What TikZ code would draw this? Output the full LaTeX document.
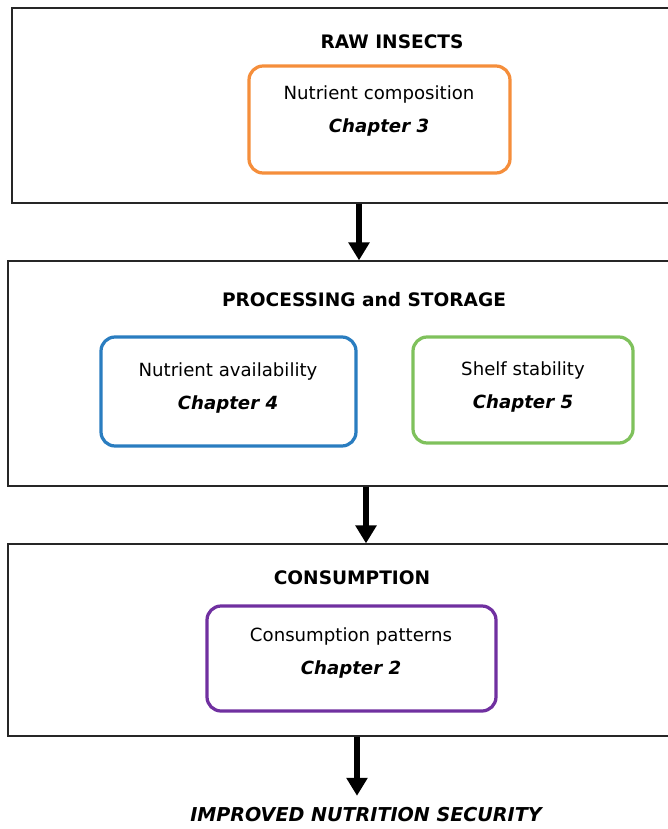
\documentclass[tikz,border=0pt]{standalone}
\usepackage{fontspec}
\setmainfont{DejaVu Sans}
\usetikzlibrary{arrows.meta,positioning,fit}
\definecolor{chaporange}{HTML}{F58E3B}
\definecolor{chapblue}{HTML}{2A7DC0}
\definecolor{chapgreen}{HTML}{7FC15C}
\definecolor{chappurple}{HTML}{7030A0}

\begin{document}
\begin{tikzpicture}[x=0.025cm, y=-0.025cm,
  stage/.style={draw=black!85, line width=0.9pt, inner sep=0pt},
  chapbox/.style={draw=#1, line width=2.3pt, rounded corners=10pt, inner sep=0pt},
  stagetitle/.style={font=\fontsize{13.2}{15}\selectfont\bfseries},
  chaptext/.style={align=center, font=\fontsize{12.9}{24}\selectfont},
  flow/.style={line width=4.3pt, -{Triangle[length=12.8pt, width=14.5pt]}}]
  \useasboundingbox (0,0) rectangle (668,829);

  % the three stages, open to the right
  \node[stage, fit={(12,8) (690,203)}] (raw) {};
  \node[stage, fit={(8,261) (690,486)}] (proc) {};
  \node[stage, fit={(8,544) (690,736)}] (cons) {};

  \node[stagetitle] (rawtitle) at (392,42) {RAW INSECTS};
  \node[stagetitle] (proctitle) at (364,300) {PROCESSING and STORAGE};
  \node[stagetitle] (constitle) at (352,578) {CONSUMPTION};

  % chapters
  \node[chapbox=chaporange, fit={(249,66) (510,173)}] (comp) {};
  \node[chaptext] (comptext) at (379,111) {Nutrient composition\\\textbf{\textit{Chapter 3}}};

  \node[chapbox=chapblue, fit={(101,337) (356,446)}] (avail) {};
  \node[chaptext] (availtext) at (228,388) {Nutrient availability\\\textbf{\textit{Chapter 4}}};

  \node[chapbox=chapgreen, fit={(413,337) (633,443)}] (shelf) {};
  \node[chaptext] (shelftext) at (523,387) {Shelf stability\\\textbf{\textit{Chapter 5}}};

  \node[chapbox=chappurple, fit={(207,606) (496,711)}] (pattern) {};
  \node[chaptext] (patterntext) at (351,653) {Consumption patterns\\\textbf{\textit{Chapter 2}}};

  \node[stagetitle, font=\fontsize{13.6}{15}\selectfont\bfseries\itshape] (goal) at (366,815) {IMPROVED NUTRITION SECURITY};

  \coordinate (a1) at (359,0);
  \coordinate (a2) at (366,0);
  \coordinate (a3) at (357,0);
  \draw[flow] (raw.south -| a1) -- (proc.north -| a1);
  \draw[flow] (proc.south -| a2) -- (cons.north -| a2);
  \draw[flow] (cons.south -| a3) -- ([yshift=5pt]goal.north -| a3);
\end{tikzpicture}
\end{document}
